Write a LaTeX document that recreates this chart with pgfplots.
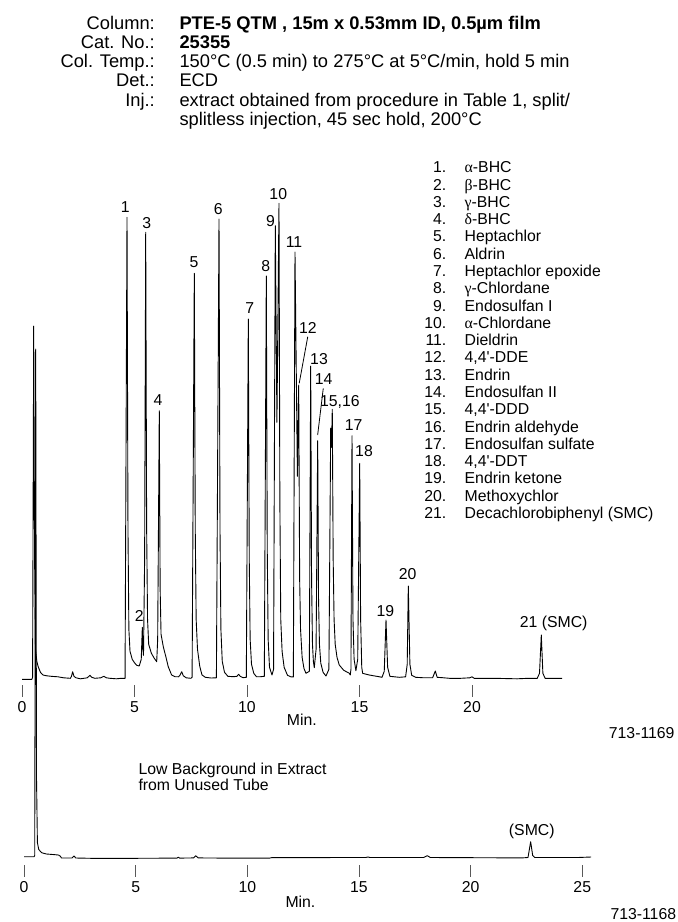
\documentclass[border=0pt]{standalone}
\usepackage{fontspec}
\setmainfont{Liberation Sans}
\newfontfamily\grk{Liberation Serif}
\usepackage{pgfplots}
\pgfplotsset{compat=1.18}
\newcommand\sm{\fontsize{15.8}{17.3}\selectfont}
\newcommand\hd{\fontsize{18.3}{19.2}\selectfont}
\pgfplotsset{chrom/.style={
  enlargelimits=false, clip=false,
  axis x line=bottom, axis y line=none, axis line style={draw=none},
  ytick=\empty, yticklabels={},
  xtick align=outside, major tick length=11.7pt,
  tick style={black!65, line width=0.9pt},
  tick label style={font=\sm},
  xticklabel style={anchor=base, yshift=-15.7pt},
}}
\begin{document}
\begin{tikzpicture}[x=1pt,y=1pt]
\path (0,0) rectangle (678,-922);
% ---------- header ----------
\tikzset{hl/.style={anchor=base east, inner sep=0pt, font=\hd}, hv/.style={anchor=base west, inner sep=0pt, font=\hd}}
\node[hl] at (155,-29.3) {Column:};
\node[hv] at (179.3,-29.3) {\bfseries PTE-5 QTM , 15m x 0.53mm ID, 0.5µm film};
\node[hl] at (155,-48.5) {Cat. No.:};
\node[hv] at (179.3,-48.5) {\bfseries 25355};
\node[hl] at (155,-67.7) {Col. Temp.:};
\node[hv] at (179.3,-67.7) {150°C (0.5 min) to 275°C at 5°C/min, hold 5 min};
\node[hl] at (155,-86.9) {Det.:};
\node[hv] at (179.3,-86.9) {ECD};
\node[hl] at (155,-106.1) {Inj.:};
\node[hv] at (179.3,-106.1) {extract obtained from procedure in Table 1, split/};
\node[hv] at (179.3,-125.3) {splitless injection, 45 sec hold, 200°C};
% ---------- peak list ----------
\foreach \n/\t in {1/{{\grk α}-BHC},2/{{\grk β}-BHC},3/{{\grk γ}-BHC},4/{{\grk δ}-BHC},5/{Heptachlor},6/{Aldrin},7/{Heptachlor epoxide},8/{{\grk γ}-Chlordane},9/{Endosulfan I},10/{{\grk α}-Chlordane},11/{Dieldrin},12/{4,4\textquotesingle-DDE},13/{Endrin},14/{Endosulfan II},15/{4,4\textquotesingle-DDD},16/{Endrin aldehyde},17/{Endosulfan sulfate},18/{4,4\textquotesingle-DDT},19/{Endrin ketone},20/{Methoxychlor},21/{Decachlorobiphenyl (SMC)}}{
  \pgfmathsetmacro\yy{-(172.8+17.28*(\n-1))}
  \node[anchor=base east, inner sep=0pt, font=\sm] at (446.5,\yy) {\n.};
  \node[anchor=base west, inner sep=0pt, font=\sm] at (464.5,\yy) {\t};
}
% ---------- side texts ----------
\node[anchor=base east, inner sep=0pt, font=\sm] at (674.7,-738) {713-1169};
\node[anchor=base east, inner sep=0pt, font=\sm] at (676.3,-919.7) {713-1168};
\node[anchor=base west, inner sep=0pt, font=\sm] at (138.3,-774) {Low Background in Extract};
\node[anchor=base west, inner sep=0pt, font=\sm] at (138.3,-790.7) {from Unused Tube};
% ---------- upper chromatogram ----------
\begin{scope}[shift={(22pt,-679.3pt)}]
\begin{axis}[chrom, at={(0pt,0pt)}, anchor=origin, x=22.5pt, y=1pt,
  xmin=0, xmax=24, ymin=-5.7, ymax=480,
  xtick={0,5,10,15,20}, xticklabels={0,5,10,15,20},
  xlabel={Min.}, xlabel style={at={(axis cs:12.44,-46.4)}, anchor=base, font=\sm, inner sep=0pt}]
\addplot[black, line width=0.9pt, line join=round] table {
0 0
0.44 0
0.47 2
0.52 353.3
0.56 120
0.60 30
0.66 18
0.72 12.6
0.82 7
0.93 4.3
1.10 3.5
1.30 3
1.60 2.5
1.85 1.5
2.15 1
2.20 3
2.25 7.6
2.31 3
2.40 1.5
2.60 0.5
2.90 1.5
3.02 4
3.10 2
3.24 1
3.50 1.5
3.64 3
3.75 1.5
3.91 1
4.20 0.5
4.40 1
4.58 1
4.667 462
4.71 150
4.75 50
4.80 28
4.90 20
5.00 16.5
5.10 14
5.21 13.3
5.30 20
5.347 52
5.375 30
5.40 24
5.45 120
5.498 447
5.54 150
5.58 60
5.63 35
5.75 26
5.88 21
5.987 17.6
6.03 40
6.102 268.6
6.14 90
6.18 45
6.28 32.6
6.40 22
6.50 12.6
6.65 4.3
6.80 2.6
6.95 2.5
7.02 4
7.10 7.6
7.17 3.5
7.30 1.5
7.50 1
7.56 2
7.658 406
7.70 150
7.74 60
7.80 30
7.90 13
8.00 4.3
8.15 2
8.40 1.3
8.64 1.5
8.756 460.3
8.80 150
8.84 50
8.90 18
9.00 7
9.15 3
9.40 2.6
9.55 3
9.63 5
9.70 3
9.82 1.6
9.97 2
10.058 360.3
10.10 120
10.14 40
10.20 15
10.30 6
10.42 2.6
10.60 2.6
10.77 3
10.858 403.3
10.90 130
10.94 40
11.00 12
11.11 4.3
11.18 10
11.258 453.6
11.33 257
11.422 476
11.46 180
11.50 60
11.56 28
11.65 12
11.80 4
11.95 2.5
12.06 2.3
12.133 427.3
12.24 203
12.298 294.3
12.34 100
12.38 50
12.45 22
12.53 11
12.62 6
12.77 8
12.831 313.3
12.87 100
12.91 35
12.95 18
12.99 11.6
13.07 30
13.142 238.6
13.18 80
13.22 35
13.28 16
13.38 7
13.51 3.3
13.64 10
13.72 251.3
13.756 232
13.79 270
13.83 120
13.87 60
13.92 35
14.00 22
14.10 14.3
14.30 9
14.55 6
14.59 4.3
14.62 10
14.667 243.6
14.71 60
14.76 20
14.84 8.6
14.92 20
15.009 216
15.05 60
15.10 12
15.14 6
15.43 4.3
15.87 2.6
16.00 2
16.10 8
16.178 59.3
16.25 12
16.35 3
16.77 2
17.05 2.5
17.12 15
17.169 93.3
17.24 15
17.32 4
17.50 2
17.80 1.6
18.25 1.6
18.37 8.3
18.45 2
18.70 1.6
19.00 1
19.50 1
19.90 1.5
20.00 2.5
20.10 1
21.00 1
22.00 0.5
22.50 1
22.90 1
23.00 6
23.08 44.3
23.15 6
23.25 1
24.00 1
};
\tikzset{pl/.style={anchor=base, inner sep=0pt, font=\sm}}
\node[pl] at (axis cs:4.59,466.9) {1};
\node[pl] at (axis cs:5.21,57.6) {2};
\node[pl] at (axis cs:5.54,450.9) {3};
\node[pl] at (axis cs:6.04,274.3) {4};
\node[pl] at (axis cs:7.64,411.9) {5};
\node[pl] at (axis cs:8.72,465.3) {6};
\node[pl] at (axis cs:10.12,365.6) {7};
\node[pl] at (axis cs:10.83,407.6) {8};
\node[pl] at (axis cs:11.05,452.9) {9};
\node[pl] at (axis cs:11.39,479.6) {10};
\node[pl] at (axis cs:12.09,431.9) {11};
\node[pl] at (axis cs:12.71,345.9) {12};
\node[pl] at (axis cs:13.2,314.6) {13};
\node[pl] at (axis cs:13.41,294.9) {14};
\node[pl] at (axis cs:14.13,272.9) {15,16};
\node[pl] at (axis cs:14.74,248.9) {17};
\node[pl] at (axis cs:15.2,222.9) {18};
\node[pl] at (axis cs:16.15,62.9) {19};
\node[pl] at (axis cs:17.14,100.3) {20};
\node[pl] at (axis cs:23.63,51.9) {21 (SMC)};
\draw[black, line width=0.8pt] (axis cs:12.70,342.6) -- (axis cs:12.32,296);
\draw[black, line width=0.8pt] (axis cs:13.39,291) -- (axis cs:13.14,244.3);
\end{axis}
\end{scope}
% ---------- lower chromatogram ----------
\begin{scope}[shift={(24pt,-857.5pt)}]
\begin{axis}[chrom, at={(0pt,0pt)}, anchor=origin, x=22.33pt, y=1pt,
  xmin=0, xmax=25.4, ymin=-7.5, ymax=520,
  xtick={0,5,10,15,20,25}, xticklabels={0,5,10,15,20,25},
  xlabel={Min.}, xlabel style={at={(axis cs:12.38,-49.9)}, anchor=base, font=\sm, inner sep=0pt}]
\addplot[black, line width=0.9pt, line join=round] table {
0 0.8
0.45 0.8
0.48 2
0.524 508.5
0.56 80
0.60 15
0.66 8
0.79 4.8
1.00 3.5
1.30 3
1.54 2.5
1.62 1.5
1.68 -0.5
2.15 -0.5
2.24 1.5
2.32 -0.5
3.00 -0.8
5.00 -0.8
6.85 -0.6
6.91 0.3
6.97 -0.6
7.60 -0.4
7.69 1.8
7.80 -0.4
9.00 -0.6
11.00 -0.6
11.10 -0.1
15.30 0
15.40 0.5
15.50 0
17.90 0
18.06 1.8
18.20 0
22.30 -0.4
22.57 0
22.69 15.8
22.78 2
22.87 0
24.80 0
25.40 0.5
};
\node[anchor=base, inner sep=0pt, font=\sm] at (axis cs:22.74,21.8) {(SMC)};
\end{axis}
\end{scope}
\end{tikzpicture}
\end{document}
